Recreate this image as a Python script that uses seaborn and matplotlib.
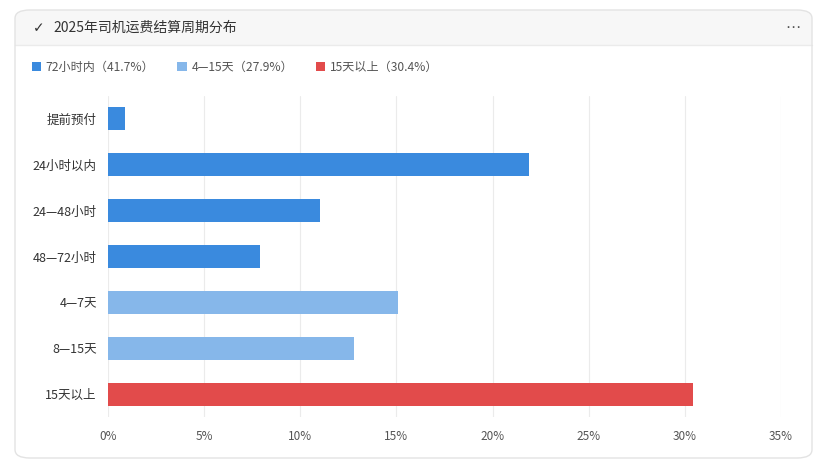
import pandas as pd
import seaborn as sns
import matplotlib.pyplot as plt
from matplotlib.patches import FancyBboxPatch, Rectangle, Patch

# data (percent)
periods = ["提前预付", "24小时以内", "24—48小时", "48—72小时", "4—7天", "8—15天", "15天以上"]
shares = [0.9, 21.9, 11.0, 7.9, 15.1, 12.8, 30.4]
groups = ["72小时内", "72小时内", "72小时内", "72小时内", "4—15天", "4—15天", "15天以上"]
group_order = ["72小时内", "4—15天", "15天以上"]
group_colors = ["#3a8ade", "#86b7ea", "#e24b4b"]
title = "2025年司机运费结算周期分布"
xticks = [0, 5, 10, 15, 20, 25, 30, 35]

df = pd.DataFrame({"period": periods, "share": shares, "group": groups})
totals = df.groupby("group")["share"].sum()

sns.set_theme(style="white")
plt.rcParams["font.family"] = ["Noto Sans CJK SC", "DejaVu Sans"]

W, H = 827, 467
fig = plt.figure(figsize=(W / 100, H / 100), dpi=100)
fig.patch.set_facecolor("white")

def fx(px):
    return px / W

def fy(py):
    return 1 - py / H

# card background
card = FancyBboxPatch((fx(15), fy(458)), fx(812) - fx(15), fy(10) - fy(458),
                      boxstyle="round,pad=0,rounding_size=0.018", transform=fig.transFigure,
                      facecolor="white", edgecolor="none", zorder=0)
fig.patches.append(card)
header = FancyBboxPatch((fx(15), fy(60)), fx(812) - fx(15), fy(10) - fy(60),
                        boxstyle="round,pad=0,rounding_size=0.018", transform=fig.transFigure,
                        facecolor="#f7f7f7", edgecolor="none", zorder=1)
fig.patches.append(header)
fig.patches.append(Rectangle((fx(15), fy(70)), fx(812) - fx(15), fy(45) - fy(70),
                             transform=fig.transFigure, facecolor="white", edgecolor="none", zorder=2))
fig.lines.append(plt.Line2D([fx(15), fx(812)], [fy(45), fy(45)], transform=fig.transFigure,
                            color="#ebebeb", lw=1, zorder=3))
border = FancyBboxPatch((fx(15), fy(458)), fx(812) - fx(15), fy(10) - fy(458),
                        boxstyle="round,pad=0,rounding_size=0.018", transform=fig.transFigure,
                        facecolor="none", edgecolor="#e3e3e3", lw=1, zorder=4)
fig.patches.append(border)

fig.text(fx(33), fy(28), "✓", fontsize=10, color="#333333", va="center", ha="left",
         family=["DejaVu Sans"])
fig.text(fx(53), fy(28), title, fontsize=10, color="#333333", va="center", ha="left")
fig.text(fx(793), fy(27), "⋯", fontsize=11, color="#555555", va="center", ha="center",
         family=["DejaVu Sans"])

# bars
ax = fig.add_axes([fx(108), fy(417), fx(781) - fx(108), (417 - 96) / H])
ax.set_zorder(10)
sns.barplot(data=df, x="share", y="period", hue="group", hue_order=group_order,
            palette=group_colors, order=periods, dodge=False, width=0.5,
            orient="h", ax=ax, legend=False, linewidth=0, saturation=1)
ax.set_xlim(0, 35)
ax.set_ylim(6.5, -0.5)
ax.set_xticks(xticks)
ax.set_xticklabels([f"{t}%" for t in xticks])
ax.set_xlabel("")
ax.set_ylabel("")
ax.grid(axis="x", color="#ebebeb", lw=0.8)
ax.set_axisbelow(True)
for s in ax.spines.values():
    s.set_visible(False)
ax.tick_params(axis="y", length=0, labelsize=9, labelcolor="#333333", pad=8)
ax.tick_params(axis="x", length=0, labelsize=8.5, labelcolor="#555555", pad=9)
ax.patch.set_alpha(0)

# legend
handles = [Patch(facecolor=c, edgecolor="none") for c in group_colors]
labels = [f"{g}（{totals[g]:.1f}%）" for g in group_order]
leg = fig.legend(handles, labels, loc="center left", bbox_to_anchor=(fx(21), fy(67)), ncol=3,
                 frameon=False, fontsize=8.7, handlelength=0.75, handleheight=0.75,
                 handletextpad=0.4, columnspacing=1.9, labelcolor="#555555")
leg.set_zorder(11)

fig.savefig("out.png", dpi=100)
